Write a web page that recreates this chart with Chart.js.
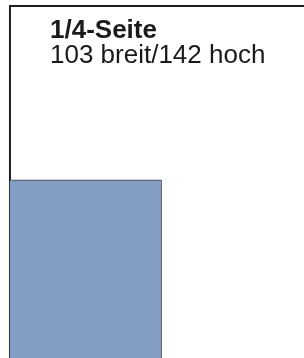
<!DOCTYPE html>
<html>
<head>
<meta charset="utf-8">
<script src="https://cdn.jsdelivr.net/npm/chart.js@4/dist/chart.umd.min.js"></script>
<style>
  body { margin: 0; background: #fff; }
  #wrap { position: relative; width: 304px; height: 358px; overflow: hidden; }
  #label {
    position: absolute; left: 50px; top: 16.5px;
    font-family: "Liberation Sans", Arial, Helvetica, sans-serif;
    font-size: 26px; line-height: 25px; color: #1a1a1a; white-space: nowrap;
  }
  #label b { font-weight: bold; }
</style>
</head>
<body>
<div id="wrap">
  <canvas id="seite" width="304" height="358"></canvas>
  <div id="label"><b>1/4-Seite</b><br>103 breit/142 hoch</div>
</div>
<script>
// Formate in mm
const formate = ["Seite", "1/4-Seite"];
const breite = [206, 103];
const hoehe = [261, 142];

// sichtbarer Ausschnitt (mm)
const xBereich = [-6.8, 200.5];
const yBereich = [-4.1, 240.1];

const W = breite[0], H = hoehe[0];
const aB = breite[1], aTop = H - hoehe[1];

new Chart(document.getElementById("seite"), {
    type: 'scatter',
    data: {
        datasets: [{
            label: formate[1],
            data: [{x: 0, y: aTop}, {x: aB, y: aTop}],
            showLine: true,
            borderWidth: 0,
            pointRadius: 0,
            backgroundColor: "#849dc5",
            fill: {value: H}
        }, {
            label: formate[1] + " Rand",
            data: [{x: 0, y: aTop}, {x: aB, y: aTop}, {x: aB, y: H}, {x: 0, y: H}, {x: 0, y: aTop}],
            showLine: true,
            borderColor: "#3c3c3c",
            borderWidth: 1.5,
            pointRadius: 0,
            fill: false
        }, {
            label: formate[0],
            data: [{x: 0, y: H}, {x: 0, y: 0}, {x: W, y: 0}, {x: W, y: H}],
            showLine: true,
            borderColor: "#1e1e1e",
            borderWidth: 2,
            pointRadius: 0,
            fill: false
        }]
    },
    options: {
        responsive: false,
        animation: false,
        layout: {padding: 0},
        scales: {
            x: {type: 'linear', min: xBereich[0], max: xBereich[1], display: false},
            y: {type: 'linear', reverse: true, min: yBereich[0], max: yBereich[1], display: false}
        },
        plugins: {
            legend: {display: false},
            tooltip: {enabled: false}
        }
    }
});
</script>
</body>
</html>
